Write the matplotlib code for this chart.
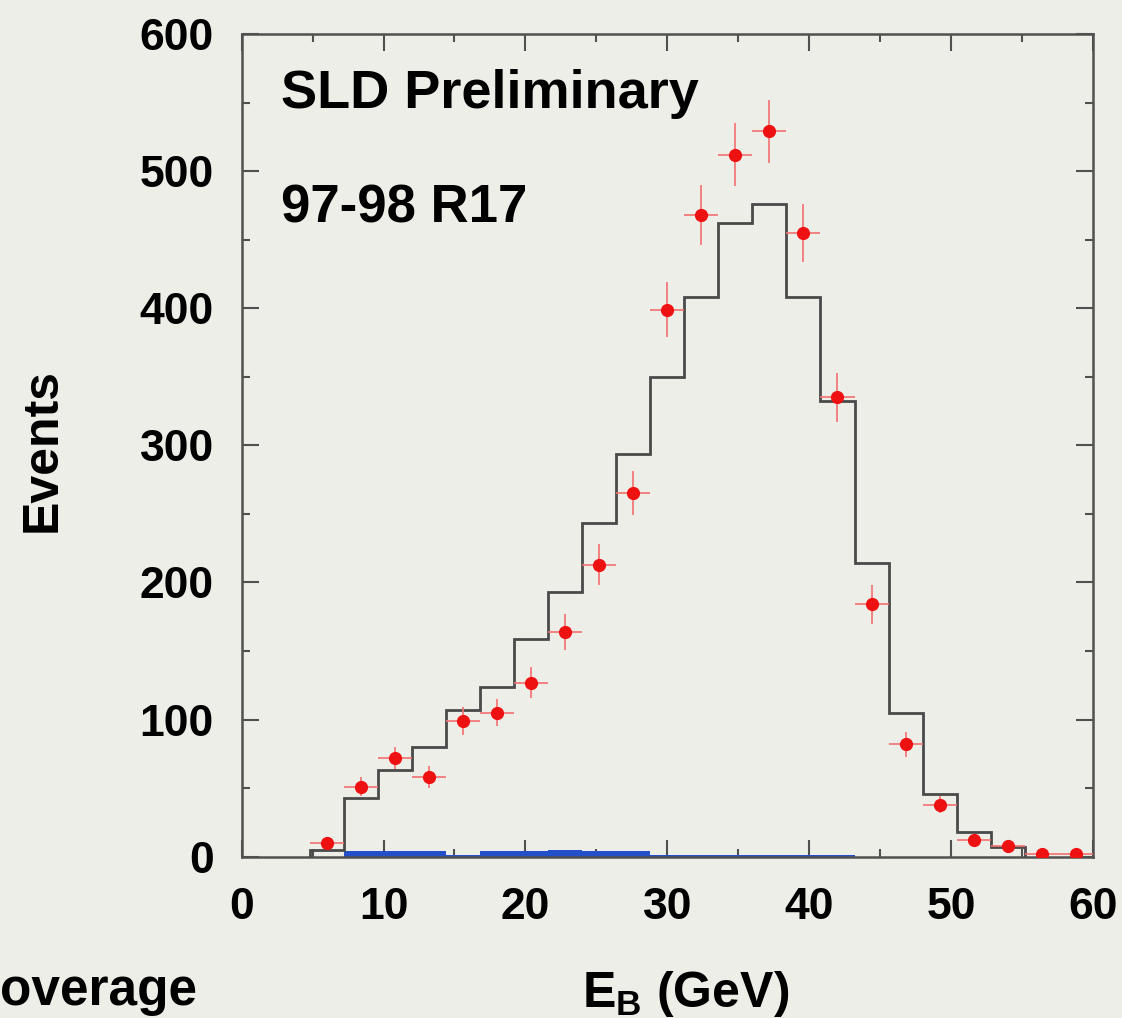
import numpy as np
import matplotlib
matplotlib.use("Agg")
import matplotlib.pyplot as plt
from matplotlib.ticker import MultipleLocator

plt.rcParams['font.family'] = ['Liberation Sans', 'DejaVu Sans']
plt.rcParams['font.weight'] = 'bold'
plt.rcParams['mathtext.fontset'] = 'custom'
plt.rcParams['mathtext.bf'] = 'Liberation Sans:bold'

# MC histogram (bin width 2.4 GeV)
mc_edges = [4.8, 7.2, 9.6, 12.0, 14.4, 16.8, 19.2, 21.6, 24.0, 26.4, 28.8, 31.2,
            33.6, 36.0, 38.4, 40.8, 43.2, 45.6, 48.0, 50.4, 52.8, 55.2]
mc_counts = [5, 43, 63, 80, 107, 124, 159, 193, 243, 294, 350, 408,
             462, 476, 408, 332, 214, 105, 46, 18, 7]

# background histogram (blue)
bg_edges = [7.2, 9.6, 12.0, 14.4, 16.8, 19.2, 21.6, 24.0, 26.4, 28.8, 31.2,
            33.6, 36.0, 38.4, 40.8, 43.2]
bg_counts = [4, 4, 4, 1.5, 4, 4, 5, 4, 4, 1.5, 1.5, 1.5, 1.5, 1.5, 1.5]

# data points
data_x = [6.0, 8.4, 10.8, 13.2, 15.6, 18.0, 20.4, 22.8, 25.2, 27.6, 30.0, 32.4,
          34.8, 37.2, 39.6, 42.0, 44.4, 46.8, 49.2, 51.6, 54.0, 56.4, 58.8]
data_y = [10, 51, 72, 58, 99, 105, 127, 164, 213, 265, 399, 468,
          512, 529, 455, 335, 184, 82, 38, 12, 8, 2, 2]
data_yerr = [3, 7, 8, 8, 10, 10, 11, 13, 15, 16, 20, 22,
             23, 23, 21, 18, 14, 9, 6, 3, 3, 1, 1]
data_xerr = 1.2

bg = '#EEEEE8'
fig = plt.figure(figsize=(11.22, 10.18), dpi=100, facecolor=bg)
ax = fig.add_axes([0.2154, 0.1585, 0.7586, 0.8081])
ax.set_facecolor(bg)

ax.stairs(bg_counts, bg_edges, fill=True, color='#2350C8', zorder=2)
ax.stairs(mc_counts, mc_edges, color='#4a4a4a', linewidth=2.0, zorder=3)
ax.errorbar(data_x, data_y, yerr=data_yerr, xerr=data_xerr, fmt='o',
            color='#EE1111', ecolor='#F47070', elinewidth=1.2, capsize=0,
            markersize=8.5, zorder=4)

ax.set_xlim(0, 60)
ax.set_ylim(0, 600)
ax.xaxis.set_major_locator(MultipleLocator(10))
ax.xaxis.set_minor_locator(MultipleLocator(5))
ax.yaxis.set_major_locator(MultipleLocator(100))
ax.yaxis.set_minor_locator(MultipleLocator(50))
ax.tick_params(which='both', direction='in', top=True, right=True,
               color='#505050', width=1.5)
ax.tick_params(which='major', length=12, labelsize=32)
ax.tick_params(which='minor', length=6)
ax.tick_params(axis='y', which='major', pad=20)
ax.tick_params(axis='x', which='major', pad=22)
for s in ax.spines.values():
    s.set_color('#505050')
    s.set_linewidth(1.8)

ax.set_ylabel('Events', fontsize=36, fontweight='bold')
ax.yaxis.set_label_coords(-0.207, 0.494)
ax.set_xlabel(r'E$_\mathbf{B}$ (GeV)', fontsize=36, fontweight='bold')
ax.xaxis.set_label_coords(0.521, -0.137)

ax.text(0.046, 0.958, 'SLD Preliminary', transform=ax.transAxes,
        fontsize=39, fontweight='bold', va='top', ha='left')
ax.text(0.046, 0.818, '97-98 R17', transform=ax.transAxes,
        fontsize=38, fontweight='bold', va='top', ha='left')
fig.text(0.0, 0.013, 'overage', fontsize=37, fontweight='bold',
         ha='left', va='baseline')

fig.savefig('out.png', dpi=100, facecolor=bg)
